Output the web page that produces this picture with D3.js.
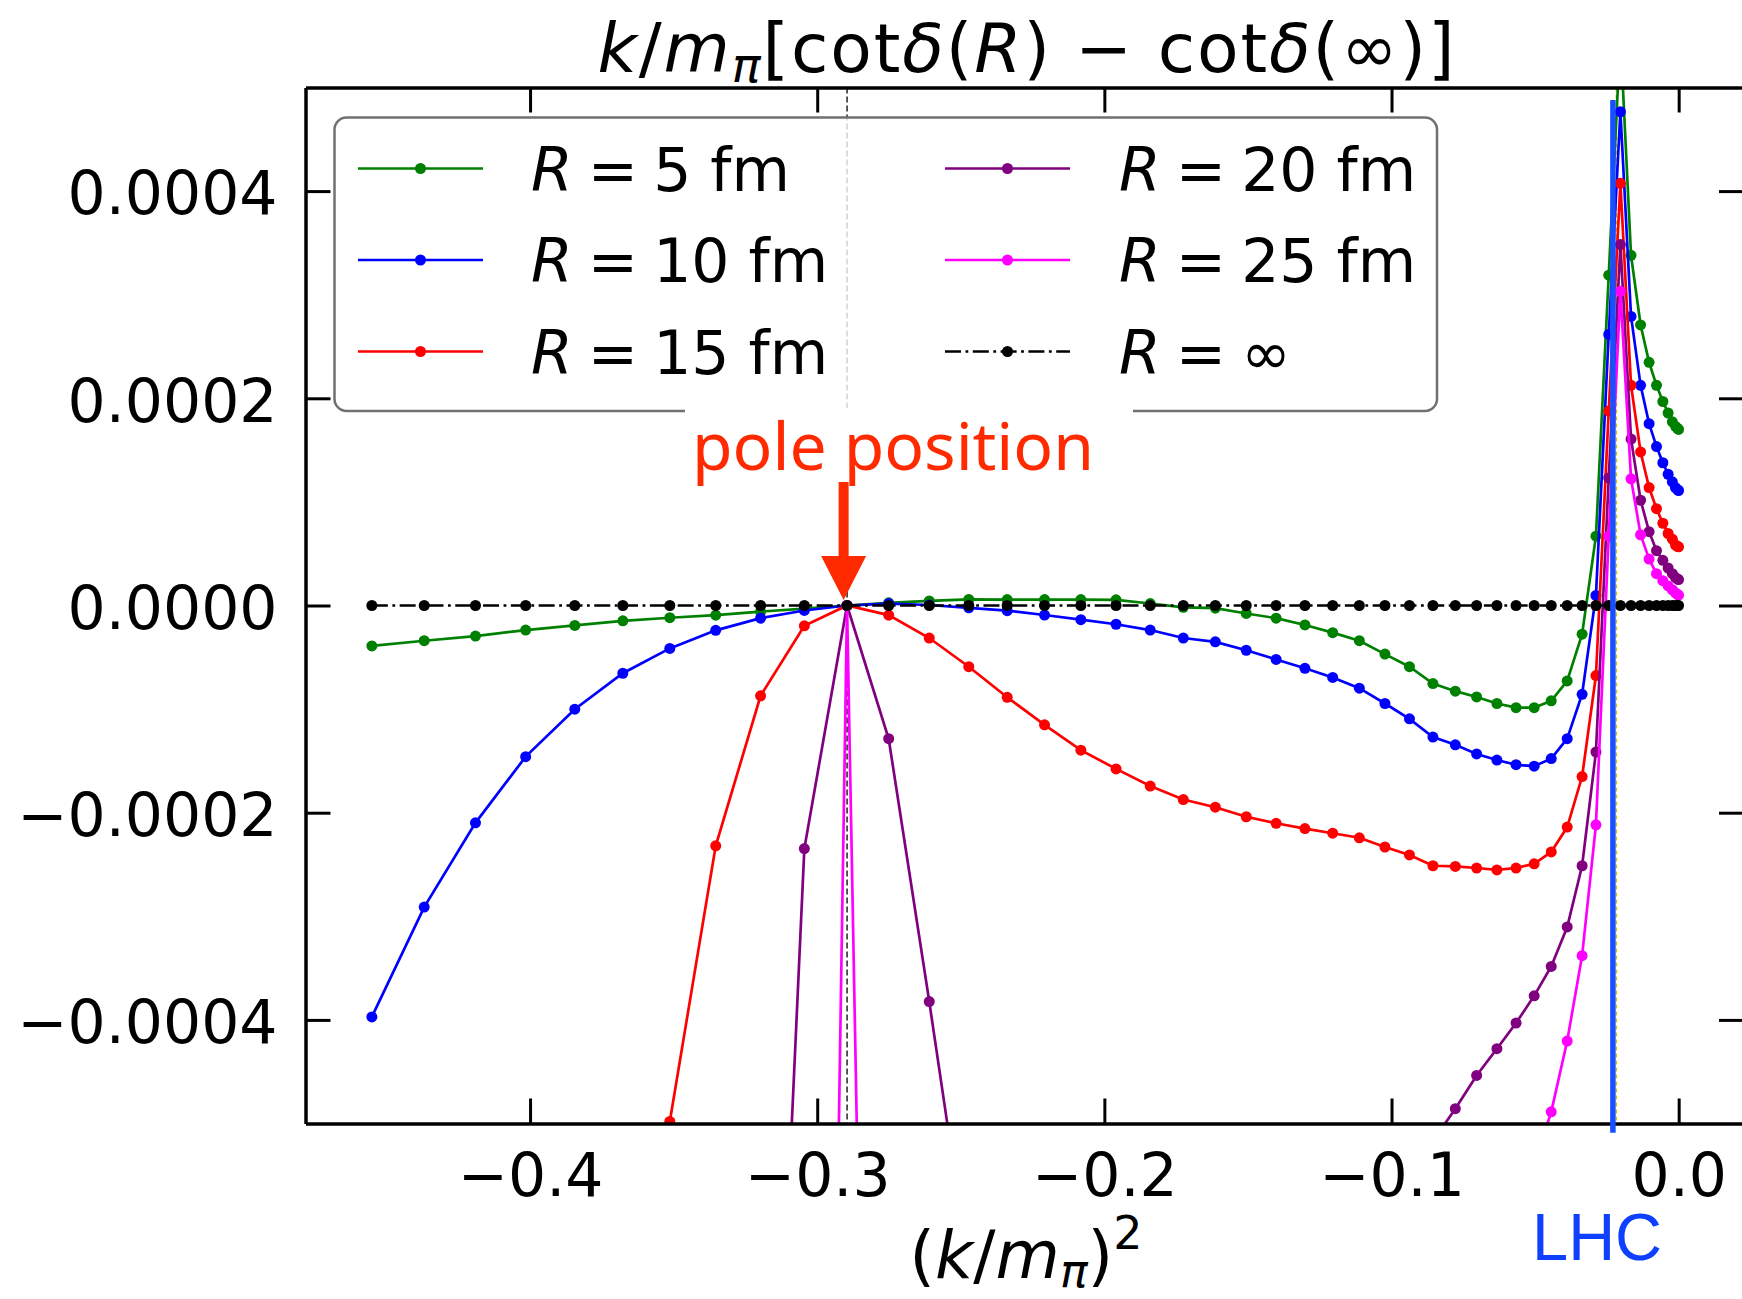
<!DOCTYPE html>
<html><head><meta charset="utf-8">
<script src="https://cdn.jsdelivr.net/npm/d3@7"></script>
<style>html,body{margin:0;padding:0;background:#fff;overflow:hidden;} svg{display:block;}</style>
</head><body>
<svg id="chart" width="1742" height="1299"></svg>
<script>
// x = (k/m_pi)^2
const xValues = [-0.45509,-0.43686,-0.41901,-0.40153,-0.38442,-0.36769,-0.35133,-0.33534,-0.31972,-0.30448,
  -0.28961,-0.27511,-0.26098,-0.24722,-0.23384,-0.22083,-0.20819,-0.19593,-0.18403,-0.17251,
  -0.16136,-0.15059,-0.14018,-0.13015,-0.12049,-0.11121,-0.10229,-0.09375,-0.08558,-0.07778,
  -0.07036,-0.06330,-0.05663,-0.05032,-0.04438,-0.03882,-0.03363,-0.02881,-0.02436,-0.02029,
  -0.01659,-0.01326,-0.01030,-0.00772,-0.00551,-0.00367,-0.00220,-0.00111,-0.00039,-0.00004];

// y values in units of 1e-4
const valuesR5 = [-0.39,-0.34,-0.295,-0.237,-0.192,-0.148,-0.118,-0.093,-0.059,-0.030,
  0,0.026,0.044,0.059,0.057,0.057,0.057,0.055,0.019,-0.018,
  -0.026,-0.077,-0.122,-0.188,-0.262,-0.340,-0.469,-0.591,-0.754,-0.827,
  -0.883,-0.946,-0.986,-0.986,-0.920,-0.728,-0.277,0.669,3.188,5.5,
  3.380,2.708,2.347,2.125,1.969,1.858,1.773,1.730,1.710,1.700];
const valuesR10 = [-3.971,-2.911,-2.098,-1.459,-1.001,-0.654,-0.414,-0.240,-0.122,-0.048,
  0,0.019,0.005,-0.022,-0.05,-0.092,-0.137,-0.181,-0.237,-0.314,
  -0.351,-0.432,-0.521,-0.606,-0.694,-0.798,-0.946,-1.094,-1.270,-1.345,
  -1.433,-1.492,-1.537,-1.551,-1.478,-1.285,-0.857,0.097,2.616,4.766,
  2.790,2.125,1.755,1.534,1.378,1.267,1.194,1.138,1.118,1.110];
const valuesR15 = [-30,-25,-20,-16,-12,-8.5,-4.98,-2.320,-0.872,-0.196,
  0,-0.093,-0.314,-0.591,-0.886,-1.152,-1.396,-1.577,-1.743,-1.873,
  -1.947,-2.039,-2.102,-2.153,-2.198,-2.242,-2.331,-2.408,-2.512,-2.519,
  -2.534,-2.552,-2.534,-2.493,-2.379,-2.139,-1.651,-0.676,1.877,4.075,
  2.125,1.482,1.138,0.935,0.794,0.695,0.640,0.584,0.570,0.566];
const valuesR20 = [-90,-75,-62,-52,-43,-35,-28,-21,-11.6,-2.346,
  0,-1.286,-3.823,-6.4,-9,-11,-12,-12.5,-12.5,-12,
  -11.3,-10.5,-9.6,-8.7,-7.8,-7.0,-6.3,-5.7,-5.17,-4.857,
  -4.536,-4.278,-4.030,-3.768,-3.484,-3.103,-2.512,-1.414,1.231,3.484,
  1.607,1.016,0.713,0.529,0.436,0.362,0.307,0.270,0.255,0.250];
const valuesR25 = [-200,-170,-140,-115,-95,-75,-58,-44,-34,-26.2,
  0,-21.4,-32,-38,-40,-40,-38,-36,-33,-30,
  -27,-24,-21,-19,-17,-15,-13,-11.5,-10,-8.8,
  -7.7,-6.8,-6.0,-5.4,-4.887,-4.204,-3.380,-2.117,0.669,3.033,
  1.223,0.683,0.448,0.307,0.240,0.189,0.152,0.122,0.107,0.100];
const valuesRinf = [0,0,0,0,0,0,0,0,0,0,
  0,0,0,0,0,0,0,0,0,0,
  0,0,0,0,0,0,0,0,0,0,
  0,0,0,0,0,0,0,0,0,0,
  0,0,0,0,0,0,0,0,0,0];
const yUnit = 1e-4;

const seriesLabels = ["5 fm","10 fm","15 fm","20 fm","25 fm","\u221e"];
const seriesColors = ["green","blue","red","purple","magenta","black"];
const seriesValues = [valuesR5,valuesR10,valuesR15,valuesR20,valuesR25,valuesRinf];

const xTicks = [-0.4,-0.3,-0.2,-0.1,0.0];
const yTicks = [-0.0004,-0.0002,0,0.0002,0.0004];
const xDomain = [-0.4782,0.02275];
const yDomain = [-0.0005,0.0005];
const poleX = -0.2896, arrowX = -0.2908, lhcX = -0.0229, yellowX = -0.0217;

const svg = d3.select("#chart");
const M = {left:305.5, right:1744, top:87.5, bottom:1123.5};
const x = d3.scaleLinear().domain(xDomain).range([M.left, M.right]);
const y = d3.scaleLinear().domain(yDomain).range([M.bottom, M.top]);
const FONT = "DejaVu Sans";
const LW = 2.7, MR = 5.5;

svg.append("rect").attr("width",1742).attr("height",1299).attr("fill","#fff");
svg.append("defs").append("clipPath").attr("id","clip").append("rect")
  .attr("x",M.left).attr("y",M.top).attr("width",M.right-M.left).attr("height",M.bottom-M.top);
const plot = svg.append("g").attr("clip-path","url(#clip)");

// pole vertical dashed line & yellow dotted line
plot.append("line").attr("x1",x(poleX)).attr("x2",x(poleX)).attr("y1",M.top).attr("y2",M.bottom)
  .attr("stroke","#222").attr("stroke-width",1.5).attr("stroke-dasharray","6,3");
plot.append("line").attr("x1",x(yellowX)).attr("x2",x(yellowX)).attr("y1",M.top).attr("y2",M.bottom)
  .attr("stroke","#c8c400").attr("stroke-width",1.5).attr("stroke-dasharray","4,3");

const line = d3.line().x((d,i)=>x(xValues[i])).y(d=>y(d*yUnit));
seriesValues.forEach((vals,si)=>{
  const col = seriesColors[si];
  const g = plot.append("g");
  g.append("path").datum(vals).attr("d",line).attr("fill","none")
    .attr("stroke",col).attr("stroke-width",LW)
    .attr("stroke-dasharray", si===5 ? "16,4.5,2.8,4.5" : null);
  g.selectAll("circle").data(vals).join("circle")
    .attr("cx",(d,i)=>x(xValues[i])).attr("cy",d=>y(d*yUnit)).attr("r",MR).attr("fill",col);
});

function styleAxis(g){
  g.attr("font-family",FONT).attr("font-size",60);
  g.select(".domain").attr("stroke","#000").attr("stroke-width",3.5);
  g.selectAll(".tick line").attr("stroke","#000").attr("stroke-width",3);
  g.selectAll(".tick text").attr("fill","#000");
}
svg.append("g").attr("transform",`translate(0,${M.bottom})`)
  .call(d3.axisBottom(x).tickValues(xTicks).tickFormat(d3.format(".1f")).tickSizeInner(-25).tickSizeOuter(0).tickPadding(30))
  .call(styleAxis);
svg.append("g").attr("transform",`translate(0,${M.top})`)
  .call(d3.axisTop(x).tickValues(xTicks).tickFormat(()=>"").tickSizeInner(-25).tickSizeOuter(0))
  .call(styleAxis);
svg.append("g").attr("transform",`translate(${M.left},0)`)
  .call(d3.axisLeft(y).tickValues(yTicks).tickFormat(d3.format(".4f")).tickSizeInner(-25).tickSizeOuter(0).tickPadding(28))
  .call(styleAxis)
  .call(g=>g.selectAll(".tick text").attr("dy","0.38em"));
svg.append("g").attr("transform",`translate(${M.right},0)`)
  .call(d3.axisRight(y).tickValues(yTicks).tickFormat(()=>"").tickSizeInner(-25).tickSizeOuter(0))
  .call(styleAxis);

// title
const title = svg.append("text").attr("x",1026).attr("y",72)
  .attr("text-anchor","middle").attr("font-family",FONT).attr("font-size",68).attr("fill","#000")
  .attr("textLength",857).attr("lengthAdjust","spacing");
title.append("tspan").attr("font-style","italic").text("k");
title.append("tspan").text("/");
title.append("tspan").attr("font-style","italic").text("m");
title.append("tspan").attr("font-style","italic").attr("font-size",48).attr("dy",10).text("\u03c0");
title.append("tspan").attr("dy",-10).text("[cot");
title.append("tspan").attr("font-style","italic").text("\u03b4");
title.append("tspan").text("(");
title.append("tspan").attr("font-style","italic").text("R");
title.append("tspan").text(") \u2212 cot");
title.append("tspan").attr("font-style","italic").text("\u03b4");
title.append("tspan").text("(\u221e)]");

// x label
const xl = svg.append("text").attr("x",1026).attr("y",1278)
  .attr("text-anchor","middle").attr("font-family",FONT).attr("font-size",66).attr("fill","#000");
xl.append("tspan").text("(");
xl.append("tspan").attr("font-style","italic").text("k");
xl.append("tspan").text("/");
xl.append("tspan").attr("font-style","italic").text("m");
xl.append("tspan").attr("font-style","italic").attr("font-size",46).attr("dy",9).text("\u03c0");
xl.append("tspan").attr("dy",-9).text(")");
xl.append("tspan").attr("font-size",46).attr("dy",-29).text("2");

// legend
const lg = svg.append("g");
lg.append("rect").attr("x",334.5).attr("y",117.5).attr("width",1102.5).attr("height",293.5).attr("rx",12)
  .attr("fill","#fff").attr("fill-opacity",0.8).attr("stroke","#707070").attr("stroke-width",2.5);
const rowsY = [168.5,260,351.5];
const cols = [{x1:358,x2:483,tx:531},{x1:945,x2:1070,tx:1119}];
seriesLabels.forEach((lab,si)=>{
  const c = cols[Math.floor(si/3)], ry = rowsY[si%3], col = seriesColors[si];
  lg.append("line").attr("x1",c.x1).attr("x2",c.x2).attr("y1",ry).attr("y2",ry)
    .attr("stroke",col).attr("stroke-width",LW).attr("stroke-dasharray", si===5 ? "16,4.5,2.8,4.5" : null);
  lg.append("circle").attr("cx",(c.x1+c.x2)/2).attr("cy",ry).attr("r",MR).attr("fill",col);
  const t = lg.append("text").attr("x",c.tx).attr("y",ry+22).attr("font-family",FONT).attr("font-size",60).attr("fill","#000");
  t.append("tspan").attr("font-style","italic").text("R");
  t.append("tspan").attr("dx",-4).text(" = ");
  t.append("tspan").attr("dx",-4).text(lab);
});

// pole position annotation
const red = "#ff2a00";
svg.append("rect").attr("x",685).attr("y",408).attr("width",448).attr("height",74).attr("fill","#fff");
svg.append("text").attr("x",893).attr("y",470).attr("text-anchor","middle")
  .attr("font-family","Noto Sans").attr("font-size",66).attr("fill",red).attr("textLength",402).attr("lengthAdjust","spacing")
  .text("pole position");
const ax = x(arrowX);
svg.append("path").attr("fill",red)
  .attr("d",`M${ax-5},482 H${ax+5} V556 H${ax+22.5} L${ax},600 L${ax-22.5},556 H${ax-5} Z`);

// LHC line & label
const lhcBlue = "#1a4fff";
svg.append("line").attr("x1",x(lhcX)).attr("x2",x(lhcX)).attr("y1",y(0.000488)).attr("y2",y(-0.000509))
  .attr("stroke",lhcBlue).attr("stroke-width",5.5);
svg.append("text").attr("x",1597).attr("y",1260).attr("text-anchor","middle")
  .attr("font-family","Liberation Sans").attr("font-size",66).attr("fill","#0f40ff").attr("textLength",130).attr("lengthAdjust","spacingAndGlyphs")
  .text("LHC");
</script>
</body></html>
